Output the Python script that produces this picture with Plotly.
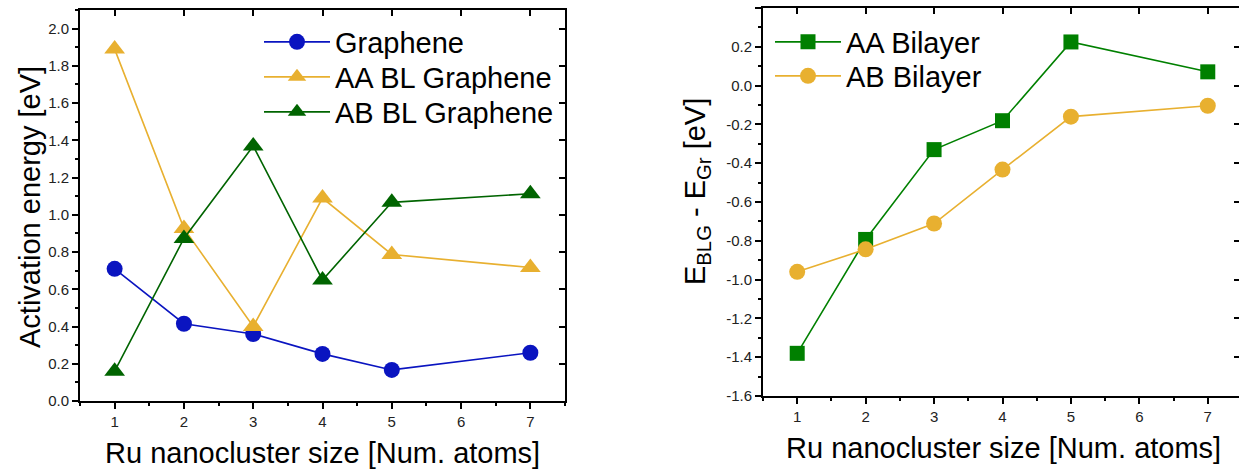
import plotly.graph_objects as go

# ---- data ----
sizes = [1, 2, 3, 4, 5, 7]
graphene = [0.71, 0.415, 0.36, 0.253, 0.167, 0.259]
aa_bl_graphene = [1.89, 0.927, 0.40, 1.09, 0.787, 0.717]
ab_bl_graphene = [0.16, 0.873, 1.37, 0.65, 1.067, 1.113]

aa_bilayer = [-1.38, -0.793, -0.33, -0.181, 0.225, 0.071]
ab_bilayer = [-0.96, -0.844, -0.711, -0.433, -0.16, -0.104]

x_ticks = [1, 2, 3, 4, 5, 6, 7]
left_y_ticks = [0.0, 0.2, 0.4, 0.6, 0.8, 1.0, 1.2, 1.4, 1.6, 1.8, 2.0]
right_y_ticks = [-1.6, -1.4, -1.2, -1.0, -0.8, -0.6, -0.4, -0.2, 0.0, 0.2, 0.4]

BLUE = "#0a14c0"
GOLD = "#e8b030"
DKGREEN = "#006400"
GREEN = "#008000"
FONT = "Liberation Sans, Arial, sans-serif"
BIG = 29

W, H = 1239, 469
# panel boxes in pixels
L_x0, L_x1, L_y0, L_y1 = 80, 565, 10, 401
R_x0, R_x1, R_y0, R_y1 = 763, 1239, 8, 396

fig = go.Figure()

def add(x, y, name, color, symbol, size, xa, ya, legend):
    fig.add_trace(go.Scatter(
        x=x, y=y, name=name, mode="lines+markers",
        line=dict(color=color, width=1.6),
        marker=dict(color=color, symbol=symbol, size=size, line=dict(width=0)),
        xaxis=xa, yaxis=ya, legend=legend))

add(sizes, graphene, "Graphene", BLUE, "circle", 16, "x", "y", "legend")
add(sizes, aa_bl_graphene, "AA BL Graphene", GOLD, "triangle-up", 18, "x", "y", "legend2")
add(sizes, ab_bl_graphene, "AB BL Graphene", DKGREEN, "triangle-up", 18, "x", "y", "legend3")
add(sizes, aa_bilayer, "AA Bilayer", GREEN, "square", 15, "x2", "y2", "legend4")
add(sizes, ab_bilayer, "AB Bilayer", GOLD, "circle", 16, "x2", "y2", "legend5")

# dummy traces to host the mirrored (inside-tick) axes
for xa, ya in (("x3", "y3"), ("x4", "y4")):
    fig.add_trace(go.Scatter(x=[None], y=[None], xaxis=xa, yaxis=ya,
                             showlegend=False, hoverinfo="skip"))

def dom_x(a, b):
    return [a / W, b / W]

def dom_y(top, bottom):
    return [1 - bottom / H, 1 - top / H]

tickfont = dict(family=FONT, size=15, color="#222222")
xrange_L = [0.5, 7.5]
xrange_R = [0.5, 7.5 - 3 / 68.5]

def fmt(v):
    return f"{v:.1f}"

common_x = dict(tickvals=x_ticks, ticktext=[str(t) for t in x_ticks],
                ticks="outside", ticklen=6, tickwidth=2, tickcolor="black",
                showline=True, linecolor="black", linewidth=2, automargin=False,
                showgrid=False, zeroline=False, tickfont=tickfont,
                minor=dict(dtick=0.5, tick0=0.5, ticks="outside", ticklen=3,
                           tickwidth=2, tickcolor="black", showgrid=False))

def legend_at(x_px, y_px):
    return dict(x=x_px / W, y=1 - y_px / H, xanchor="left", yanchor="middle",
                bgcolor="rgba(0,0,0,0)", borderwidth=0,
                font=dict(family=FONT, size=BIG, color="black"), itemwidth=66)

fig.update_layout(
    width=W, height=H, margin=dict(l=0, r=0, t=0, b=0, pad=0, autoexpand=False),
    paper_bgcolor="white", plot_bgcolor="white", showlegend=True,
    font=dict(family=FONT, color="black"),
    xaxis=dict(domain=dom_x(L_x0, L_x1), range=xrange_L, anchor="y", **common_x),
    yaxis=dict(domain=dom_y(L_y0, L_y1), range=[0, 2.1], anchor="x",
               tickvals=left_y_ticks, ticktext=[fmt(v) for v in left_y_ticks],
               ticks="outside", ticklen=6, tickwidth=2, tickcolor="black",
               showline=True, linecolor="black", linewidth=2, automargin=False,
               showgrid=False, zeroline=False, tickfont=tickfont,
               minor=dict(dtick=0.1, tick0=0, ticks="outside", ticklen=3,
                          tickwidth=2, tickcolor="black", showgrid=False)),
    xaxis2=dict(domain=dom_x(R_x0, R_x1), range=xrange_R, anchor="y2", **common_x),
    yaxis2=dict(domain=dom_y(R_y0, R_y1), range=[-1.6, 0.4], anchor="x2",
                tickvals=right_y_ticks, ticktext=[fmt(v) for v in right_y_ticks],
                ticks="outside", ticklen=6, tickwidth=2, tickcolor="black",
                showline=True, linecolor="black", linewidth=2, automargin=False,
                showgrid=False, zeroline=False, tickfont=tickfont,
                minor=dict(dtick=0.1, tick0=0, ticks="outside", ticklen=3,
                           tickwidth=2, tickcolor="black", showgrid=False)),
    # mirrored frame axes (top / right) with inside ticks
    xaxis3=dict(overlaying="x", side="top", anchor="y3", range=xrange_L,
                tickvals=x_ticks, ticks="inside", ticklen=6, tickwidth=2,
                tickcolor="black", showticklabels=False, showline=True, automargin=False,
                linecolor="black", linewidth=2, showgrid=False, zeroline=False),
    yaxis3=dict(overlaying="y", side="right", anchor="x3", range=[0, 2.1],
                tickvals=left_y_ticks, ticks="inside", ticklen=6, tickwidth=2,
                tickcolor="black", showticklabels=False, showline=True, automargin=False,
                linecolor="black", linewidth=2, showgrid=False, zeroline=False),
    xaxis4=dict(overlaying="x2", side="top", anchor="y4", range=xrange_R,
                tickvals=x_ticks, ticks="inside", ticklen=6, tickwidth=2,
                tickcolor="black", showticklabels=False, showline=True, automargin=False,
                linecolor="black", linewidth=2, showgrid=False, zeroline=False),
    yaxis4=dict(overlaying="y2", side="right", anchor="x4", range=[-1.6, 0.4],
                tickvals=right_y_ticks, ticks="inside", ticklen=5, tickwidth=2,
                tickcolor="black", showticklabels=False, showline=False, automargin=False,
                showgrid=False, zeroline=False),
    legend=legend_at(259, 42),
    legend2=legend_at(259, 77),
    legend3=legend_at(259, 112),
    legend4=legend_at(770, 42),
    legend5=legend_at(770, 76),
)

title_font = dict(family=FONT, size=BIG, color="black")
annots = [
    dict(text="Activation energy [eV]", x=30, y=207, textangle=-90),
    dict(text="E<sub>BLG</sub> - E<sub>Gr</sub> [eV]", x=697, y=192, textangle=-90),
    dict(text="Ru nanocluster size [Num. atoms]", x=322, y=453, textangle=0),
    dict(text="Ru nanocluster size [Num. atoms]", x=1003, y=448, textangle=0),
]
for a in annots:
    fig.add_annotation(text=a["text"], x=a["x"] / W, y=1 - a["y"] / H,
                       xref="paper", yref="paper", xanchor="center", yanchor="middle",
                       textangle=a["textangle"], showarrow=False, font=title_font)

fig.write_html("out.html")
